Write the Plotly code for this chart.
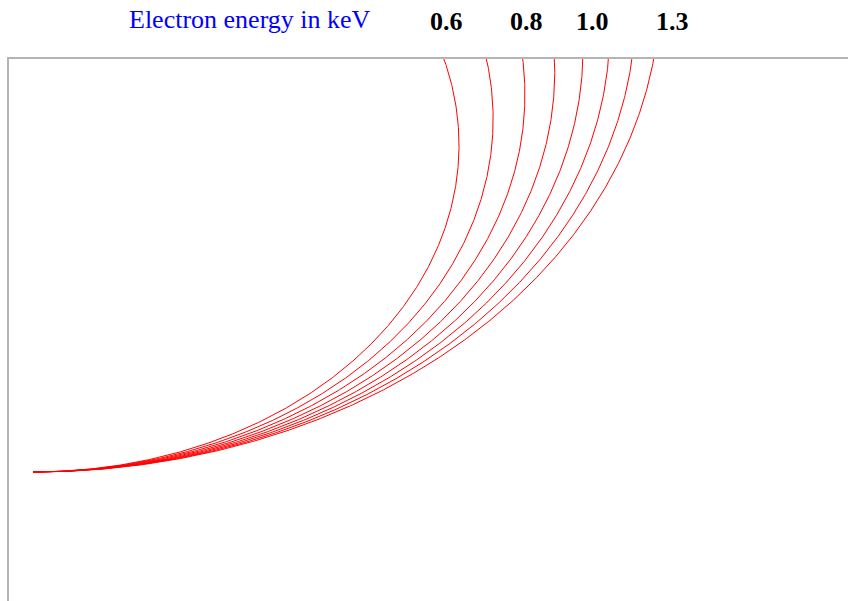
import numpy as np
import plotly.graph_objects as go

# Electron energies (keV) of the plotted trajectories
energies = [0.6, 0.7, 0.8, 0.9, 1.0, 1.1, 1.2, 1.3]
# Energies that get a label above the chart
label_energies = [0.6, 0.8, 1.0, 1.3]
title_text = "Electron energy in keV"

W, H = 848, 601
ML, MT = 9, 59
PW, PH = W - ML, H - MT

# axis scaling (pixels per unit of radius)
SX, SY = 550.0, 422.0
X0_PX, Y0_PX = 33, 472  # start point of trajectories
x_range = [(ML - X0_PX) / SX, (W - X0_PX) / SX]
y_range = [-(H - Y0_PX) / SY, (Y0_PX - MT) / SY]

fig = go.Figure()
theta = np.linspace(0, np.pi, 800)
for e in energies:
    r = np.sqrt(e)
    fig.add_trace(go.Scatter(
        x=r * np.sin(theta), y=r * (1 - np.cos(theta)),
        mode="lines", line=dict(color="#ff0000", width=1),
        showlegend=False, hoverinfo="skip"))

# label positions in pixels (horizontal centres)
label_px = {0.6: 446, 0.8: 526, 1.0: 592, 1.3: 672}
annotations = [dict(
    text=title_text, xref="paper", yref="paper",
    x=(250 - ML) / PW, y=1 + (MT - 20) / PH, xanchor="center", yanchor="middle",
    showarrow=False, font=dict(family="Liberation Serif", size=26, color="#0000ff"))]
for e in label_energies:
    annotations.append(dict(
        text="<b>%.1f</b>" % e, xref="paper", yref="paper",
        x=(label_px[e] - ML) / PW, y=1 + (MT - 21) / PH,
        xanchor="center", yanchor="middle", showarrow=False,
        font=dict(family="Liberation Serif", size=26, color="#000000")))

fig.update_layout(
    width=W, height=H,
    margin=dict(l=ML, r=0, t=MT, b=0),
    paper_bgcolor="white", plot_bgcolor="white",
    xaxis=dict(range=x_range, side="top", showline=True, linecolor="#b4b4b4",
               linewidth=1.5, showgrid=False, zeroline=False, showticklabels=False,
               ticks=""),
    yaxis=dict(range=y_range, showline=True, linecolor="#b4b4b4", linewidth=1.5,
               showgrid=False, zeroline=False, showticklabels=False, ticks=""),
    annotations=annotations,
)
fig.write_html("out.html")
